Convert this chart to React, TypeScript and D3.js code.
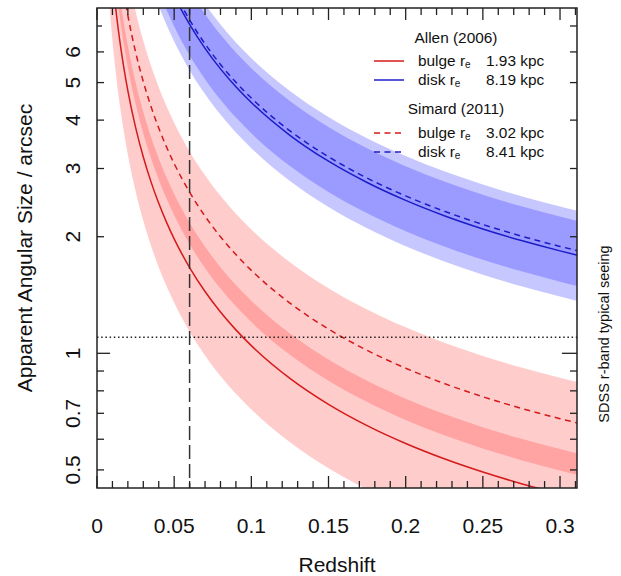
import React from "react";
import * as d3 from "d3";

// Redshift grid and physical scale (kpc per arcsec) at each redshift
const REDSHIFT = [
  0.0025, 0.005, 0.0075, 0.01, 0.0125, 0.015, 0.0175, 0.02, 0.025, 0.03, 0.035,
  0.04, 0.045, 0.05, 0.06, 0.07, 0.08, 0.09, 0.1, 0.125, 0.15, 0.175, 0.2, 0.225,
  0.25, 0.275, 0.3, 0.31, 0.315,
];
const KPC_PER_ARCSEC = [
  0.05175, 0.10318, 0.1543, 0.20511, 0.25561, 0.30581, 0.35569, 0.40529, 0.50355,
  0.60067, 0.69656, 0.79133, 0.88496, 0.97747, 1.15919, 1.33661, 1.50984, 1.67898,
  1.84415, 2.24061, 2.61437, 2.96694, 3.29959, 3.61358, 3.91, 4.18991, 4.45422,
  4.5558, 4.60572,
];

// Effective radii (kpc) per component: [bulge, disk]
const COMPONENTS = ["bulge", "disk"];
const RE_ALLEN = [1.93, 8.19];
const RE_SIMARD = [3.02, 8.41];
// Spread of sizes (kpc) per component: [bulge, disk]
const ALLEN_LOW = [1.32, 6.24];
const ALLEN_HIGH = [2.52, 10.04];
const SIMARD_LOW = [2.22, 6.82];
const SIMARD_HIGH = [3.85, 10.66];

const SEEING_ARCSEC = 1.1;
const REDSHIFT_LIMIT = 0.06;

const X_TICK_LABELS = [0, 0.05, 0.1, 0.15, 0.2, 0.25, 0.3];
const Y_TICK_LABELS = [0.5, 0.7, 1, 2, 3, 4, 5, 6];
const Y_TICKS = [0.5, 0.6, 0.7, 0.8, 0.9, 1, 2, 3, 4, 5, 6, 7];

const RED = "#d41a1a";
const BLUE = "#1c1cc8";
const FONT = "'Liberation Sans', Arial, Helvetica, sans-serif";

export default function App() {
  const W = 621;
  const H = 576;
  const left = 97;
  const right = 577;
  const top = 8;
  const bottom = 488;

  const x = d3.scaleLinear().domain([0, 0.311]).range([left, right]);
  const y = d3.scaleLog().domain([0.449, 7.79]).range([bottom, top]);

  const pts = REDSHIFT.map((z, i) => ({ z, s: KPC_PER_ARCSEC[i] }));

  const linePath = (r: number) =>
    d3
      .line<{ z: number; s: number }>()
      .x((d) => x(d.z))
      .y((d) => y(r / d.s))
      .curve(d3.curveMonotoneX)(pts) || "";

  const bandPath = (lo: number, hi: number) =>
    d3
      .area<{ z: number; s: number }>()
      .x((d) => x(d.z))
      .y0((d) => y(lo / d.s))
      .y1((d) => y(hi / d.s))
      .curve(d3.curveMonotoneX)(pts) || "";

  const colors = [RED, BLUE];
  const bandFill = ["#ff0000", "#0000ff"];
  const bandOpacity = [0.2, 0.22];

  const xMinor = d3.range(0, 32).map((i) => i / 100);

  const legendX = 418;
  const valueX = 486;
  const lineX0 = 374;
  const lineX1 = 404;

  const legendRow = (
    comp: string,
    value: number,
    baseline: number,
    color: string,
    dashed: boolean,
    key: string
  ) => (
    <g key={key}>
      <line
        x1={lineX0}
        x2={lineX1}
        y1={baseline - 5}
        y2={baseline - 5}
        stroke={color}
        strokeWidth={1.5}
        strokeDasharray={dashed ? "6,4.5" : undefined}
      />
      <text x={legendX} y={baseline} fontSize={15.4} fill="#111">
        {comp} r
        <tspan fontSize={10} dy={2}>
          e
        </tspan>
      </text>
      <text x={valueX} y={baseline} fontSize={15.4} fill="#111">
        {value.toFixed(2)} kpc
      </text>
    </g>
  );

  return (
    <svg
      width={W}
      height={H}
      style={{ position: "fixed", left: 0, top: 0, background: "#fff" }}
      fontFamily={FONT}
    >
      <rect x={0} y={0} width={W} height={H} fill="#fff" />
      <defs>
        <clipPath id="plot-area">
          <rect x={left} y={top} width={right - left} height={bottom - top} />
        </clipPath>
      </defs>

      <g clipPath="url(#plot-area)">
        {COMPONENTS.map((c, i) => (
          <g key={"bands-" + c}>
            <path
              d={bandPath(ALLEN_LOW[i], ALLEN_HIGH[i])}
              fill={bandFill[i]}
              fillOpacity={bandOpacity[i]}
            />
            <path
              d={bandPath(SIMARD_LOW[i], SIMARD_HIGH[i])}
              fill={bandFill[i]}
              fillOpacity={bandOpacity[i]}
            />
          </g>
        ))}
        {COMPONENTS.map((c, i) => (
          <g key={"lines-" + c}>
            <path d={linePath(RE_ALLEN[i])} fill="none" stroke={colors[i]} strokeWidth={1.5} />
            <path
              d={linePath(RE_SIMARD[i])}
              fill="none"
              stroke={colors[i]}
              strokeWidth={1.5}
              strokeDasharray="6,4.5"
            />
          </g>
        ))}
        <line
          x1={x(REDSHIFT_LIMIT)}
          x2={x(REDSHIFT_LIMIT)}
          y1={top}
          y2={bottom}
          stroke="#333"
          strokeWidth={1.5}
          strokeDasharray="14,5"
        />
        <line
          x1={left}
          x2={right}
          y1={y(SEEING_ARCSEC)}
          y2={y(SEEING_ARCSEC)}
          stroke="#222"
          strokeWidth={1.5}
          strokeDasharray="1.5,2.7"
        />
      </g>

      {/* frame */}
      <rect
        x={left}
        y={top}
        width={right - left}
        height={bottom - top}
        fill="none"
        stroke="#222"
        strokeWidth={1.5}
      />

      {/* x ticks, bottom and top, pointing inward */}
      {xMinor.map((v, i) => {
        const len = i % 5 === 0 ? 12 : 7;
        const px = x(v);
        return (
          <g key={"xt" + i} stroke="#222" strokeWidth={1.3}>
            <line x1={px} x2={px} y1={bottom} y2={bottom - len} />
            <line x1={px} x2={px} y1={top} y2={top + len} />
          </g>
        );
      })}
      {X_TICK_LABELS.map((v) => (
        <text
          key={"xl" + v}
          x={x(v)}
          y={533}
          fontSize={21}
          textAnchor="middle"
          fill="#111"
        >
          {String(v)}
        </text>
      ))}

      {/* y ticks, left and right, pointing inward */}
      {Y_TICKS.map((v) => {
        const py = y(v);
        const lenL = v === 1 ? 13 : v === 7 ? 5 : 7;
        const lenR = v === 1 ? 15 : 7;
        return (
          <g key={"yt" + v} stroke="#222" strokeWidth={1.3}>
            <line x1={left} x2={left + lenL} y1={py} y2={py} />
            <line x1={right} x2={right - lenR} y1={py} y2={py} />
          </g>
        );
      })}
      {Y_TICK_LABELS.map((v) => (
        <text
          key={"yl" + v}
          transform={`translate(80,${y(v)}) rotate(-90)`}
          fontSize={21}
          textAnchor="middle"
          fill="#111"
        >
          {String(v)}
        </text>
      ))}

      {/* axis titles */}
      <text x={(left + right) / 2} y={572} fontSize={21} textAnchor="middle" fill="#111">
        Redshift
      </text>
      <text
        transform={`translate(32,${(top + bottom) / 2}) rotate(-90)`}
        fontSize={21}
        textAnchor="middle"
        fill="#111"
      >
        Apparent Angular Size / arcsec
      </text>
      <text
        transform={`translate(609,334) rotate(-90)`}
        fontSize={14.5}
        textAnchor="middle"
        fill="#111"
      >
        SDSS r-band typical seeing
      </text>

      {/* legend */}
      <text x={456} y={43} fontSize={15.4} textAnchor="middle" fill="#111">
        Allen (2006)
      </text>
      {legendRow(COMPONENTS[0], RE_ALLEN[0], 66, RED, false, "a0")}
      {legendRow(COMPONENTS[1], RE_ALLEN[1], 85, BLUE, false, "a1")}
      <text x={456} y={114} fontSize={15.4} textAnchor="middle" fill="#111">
        Simard (2011)
      </text>
      {legendRow(COMPONENTS[0], RE_SIMARD[0], 138, RED, true, "s0")}
      {legendRow(COMPONENTS[1], RE_SIMARD[1], 157, BLUE, true, "s1")}
    </svg>
  );
}
